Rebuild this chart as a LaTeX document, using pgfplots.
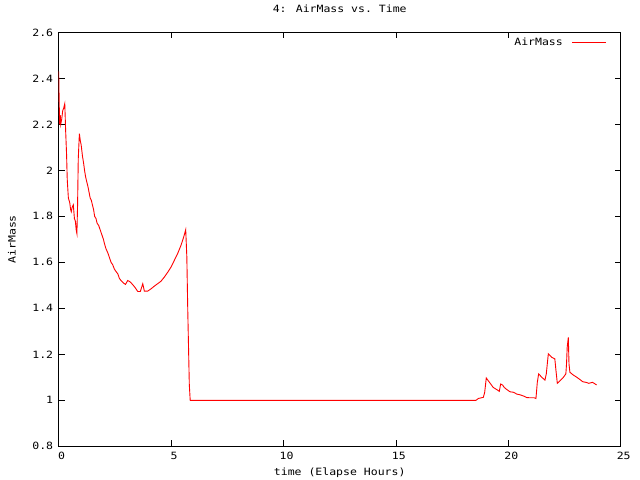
\documentclass[border=0pt]{standalone}
\usepackage{fontspec}
\setmainfont[FakeStretch=1.15]{DejaVu Sans Mono}
\usepackage{pgfplots}
\pgfplotsset{compat=1.18}
\begin{document}
\fontsize{10bp}{12bp}\selectfont
\begin{tikzpicture}
\path[use as bounding box] (-58.7bp,-33.7bp) rectangle (581.3bp,446.3bp);
\begin{axis}[
  at={(0,0)}, anchor=south west,
  scale only axis, width=562bp, height=413.9bp,
  xmin=0, xmax=25, ymin=0.8, ymax=2.6,
  xtick={0,5,10,15,20,25},
  ytick={0.8,1,1.2,1.4,1.6,1.8,2,2.2,2.4,2.6},
  yticklabels={0.8,1,1.2,1.4,1.6,1.8,2,2.2,2.4,2.6},
  xticklabels={0,5,10,15,20,25},
  tick align=inside,
  major tick length=6bp,
  tick style={black, line width=0.8bp},
  axis line style={black, line width=0.8bp},
  font=\fontsize{10bp}{12bp}\selectfont,
  /pgf/number format/assume math mode=true,
  xticklabel style={yshift=-2bp, xshift=3bp},
  yticklabel style={xshift=-2bp},
  title={4: AirMass vs.\ Time},
  title style={at={(axis description cs:0.5,1.042)}, anchor=center},
  xlabel={time (Elapse Hours)},
  xlabel style={at={(axis description cs:0.5,-0.064)}, anchor=center},
  ylabel={AirMass},
  ylabel style={at={(axis description cs:-0.0833,0.5)}, anchor=center},
  legend style={draw=none, fill=none, at={(axis description cs:0.9755,0.9746)}, anchor=east,
    font=\fontsize{10bp}{12bp}\selectfont, inner sep=0pt},
  legend plot pos=right,
  legend image code/.code={\path (0bp,0bp); \draw[#1] (7bp,0bp) -- (41bp,0bp);},
  legend cell align=right,
]
\addplot[red, line width=0.9bp] coordinates {
(0.00,2.43) (0.02,2.31) (0.04,2.20) (0.07,2.24) (0.09,2.20) (0.13,2.22) (0.18,2.26) (0.22,2.27) (0.27,2.29)
(0.31,2.17) (0.35,2.07) (0.38,1.96) (0.43,1.88) (0.49,1.86) (0.53,1.83) (0.56,1.82) (0.60,1.84) (0.65,1.85)
(0.70,1.79) (0.74,1.78) (0.78,1.74) (0.81,1.725) (0.84,1.85) (0.87,2.05) (0.92,2.16) (0.96,2.13) (1.00,2.11)
(1.06,2.06) (1.11,2.03) (1.15,2.00) (1.20,1.97) (1.25,1.95) (1.30,1.93) (1.36,1.90) (1.40,1.88) (1.45,1.87)
(1.50,1.85) (1.55,1.83) (1.60,1.80) (1.66,1.79) (1.71,1.77) (1.78,1.76) (1.85,1.74) (1.92,1.72) (1.99,1.70)
(2.04,1.68) (2.10,1.66) (2.19,1.64) (2.26,1.62) (2.33,1.60) (2.40,1.59) (2.48,1.57) (2.55,1.56) (2.63,1.55)
(2.70,1.53) (2.78,1.52) (2.88,1.51) (2.97,1.504) (3.07,1.521) (3.18,1.515) (3.32,1.50) (3.40,1.49) (3.52,1.473)
(3.63,1.473) (3.74,1.507) (3.81,1.475) (3.96,1.475) (4.11,1.485) (4.26,1.497) (4.40,1.507) (4.55,1.518)
(4.70,1.536) (4.85,1.557) (5.00,1.58) (5.14,1.608) (5.29,1.638) (5.44,1.674) (5.56,1.71) (5.65,1.742)
(5.70,1.623) (5.74,1.398) (5.78,1.209) (5.81,1.068) (5.85,1.00) (18.56,1.00)
(18.67,1.008) (18.89,1.013) (18.95,1.035) (19.02,1.097) (19.11,1.085) (19.21,1.072) (19.33,1.056)
(19.48,1.047) (19.60,1.039) (19.66,1.071) (19.75,1.066) (19.82,1.056) (19.93,1.047) (20.08,1.037)
(20.23,1.035) (20.38,1.027) (20.52,1.024) (20.67,1.019) (20.82,1.012) (20.97,1.011) (21.15,1.011)
(21.23,1.008) (21.29,1.078) (21.35,1.115) (21.49,1.10) (21.63,1.088) (21.69,1.115) (21.78,1.202)
(21.93,1.187) (22.07,1.180) (22.12,1.13) (22.18,1.074) (22.30,1.085) (22.45,1.10) (22.56,1.115)
(22.59,1.158) (22.62,1.231) (22.67,1.274) (22.70,1.158) (22.74,1.122) (22.89,1.110) (23.05,1.10)
(23.19,1.09) (23.31,1.081) (23.46,1.078) (23.58,1.074) (23.75,1.078) (23.86,1.071) (23.93,1.067)
};
\addlegendentry{AirMass}
\end{axis}
\end{tikzpicture}
\end{document}
